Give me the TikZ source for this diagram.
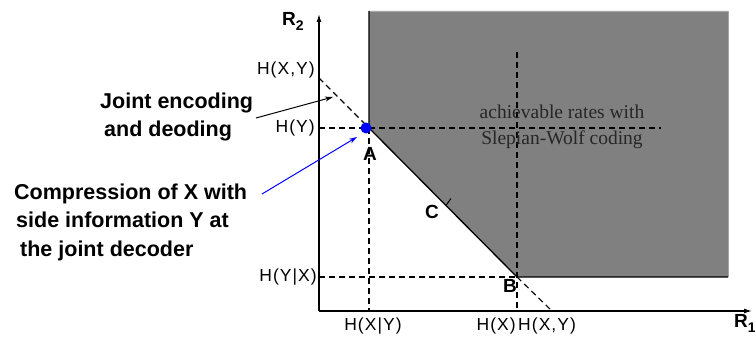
\documentclass[tikz,border=0pt]{standalone}
\usepackage{fontspec}
\setmainfont{Liberation Sans}
\newfontfamily\ratefont[LetterSpace=6]{Liberation Sans}
\newfontfamily\regionfont{Liberation Serif}
\usetikzlibrary{arrows.meta,calc,positioning}
\tikzset{
    rate axis/.style={line width=1.3pt, -{Latex[length=8pt,width=5pt]}},
    rate bound/.style={line width=1.3pt},
    rate guide/.style={line width=1.1pt, dash pattern=on 6pt off 4pt},
    rate label/.style={
        inner sep=1pt,
        font=\ratefont\fontsize{17.5}{20}\selectfont
    },
    corner label/.style={
        inner sep=0pt,
        font=\fontsize{19}{21}\selectfont\bfseries
    },
    rate note/.style={
        inner sep=0pt,
        align=left,
        font=\fontsize{21.5}{28.5}\selectfont\bfseries
    },
    note arrow/.style={line width=1pt, -{Stealth[length=8pt,width=5pt]}},
    region text/.style={
        inner sep=0pt,
        align=center,
        text=black!85,
        font=\regionfont\fontsize{19.5}{26}\selectfont
    }
}
\begin{document}
\begin{tikzpicture}[x=1pt,y=-1pt]
    \useasboundingbox (0,0) rectangle (755,347);

    % corner points of the rate region
    \coordinate (O) at (319,311);
    \coordinate (A) at (369,128);
    \coordinate (B) at (517,277);
    \coordinate (hxy2) at (319,78);
    \coordinate (hxy1) at (552,311);

    % achievable region
    \fill[black!50] (369,11) -- (728,11) -- (728,277) -- (B) -- (A) -- cycle;
    \draw[black!35, thin] (369,11) -- (728,11) -- (728,277);
    \draw[rate bound] (369,11) -- (A) -- (B) -- (728,277);

    % axes
    \draw[rate axis] (O) -- (319,14);
    \draw[rate axis] (O) -- (752,311);

    % dashed guides
    \draw[rate guide] (hxy2) -- (A);
    \draw[rate guide] (B) -- (hxy1);
    \draw[rate guide] (319,128) -- (661,128);
    \draw[rate guide] (319,277) -- (B);
    \draw[rate guide] (A) -- (369,311);
    \draw[rate guide] (517,52) -- (517,311);

    % tick near C
    \draw[line width=1pt] ($(A)!0.52!(B)$) -- ++(5,-7);

    % point A
    \fill[blue] ($(A)+(-3,0)$) circle (5.5);

    % axis labels
    \node[corner label, anchor=west] (r2) at (282,21) {R\raisebox{-5pt}{\fontsize{14}{14}\selectfont 2}};
    \node[corner label, anchor=west] (r1) at (734,323) {R\raisebox{-5pt}{\fontsize{14}{14}\selectfont 1}};

    \node[rate label, anchor=east] (lhxy) at (316,70) {H(X,Y)};
    \node[rate label, anchor=east] (lhy) at (316,128) {H(Y)};
    \node[rate label, anchor=east] (lhyx) at (318,277) {H(Y|X)};
    \node[rate label] (lhxgy) at (373,326) {H(X|Y)};
    \node[rate label, anchor=east] (lhx) at (517,326) {H(X)};
    \node[rate label, anchor=west] (lhxy1) at (lhx.east) {H(X,Y)};

    \node[corner label] (la) at (370,154) {A};
    \node[corner label] (lb) at (510,286) {B};
    \node[corner label] (lc) at (432,212) {C};

    \node[region text] (region) at (562,127) {achievable rates with\\Slepian-Wolf coding};

    % notes
    \node[rate note, anchor=west] (joint) at (100,117) {Joint encoding\\\hspace*{4pt}and deoding};
    \node[rate note, anchor=west] (side) at (14,222) {Compression of X with\\\hspace*{2pt}side information Y at\\\hspace*{6pt}the joint decoder};

    \draw[note arrow] (256,118) -- (333,97);
    \draw[note arrow, blue] (262,194) -- (357,137);
\end{tikzpicture}
\end{document}
